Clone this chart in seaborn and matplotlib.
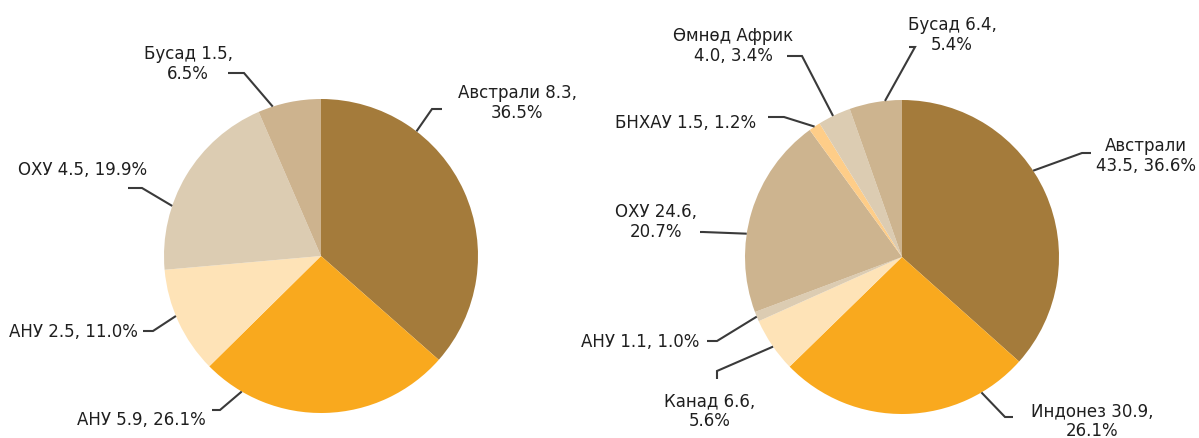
import numpy as np
import matplotlib
matplotlib.use("Agg")
import matplotlib.pyplot as plt
import seaborn as sns

# ---------------- data ----------------
left_names = ["Австрали", "АНУ", "АНУ", "ОХУ", "Бусад"]
left_values = ["8.3", "5.9", "2.5", "4.5", "1.5"]
left_pcts = [36.5, 26.1, 11.0, 19.9, 6.5]

right_names = ["Австрали", "Индонез", "Канад", "АНУ", "ОХУ", "БНХАУ", "Өмнөд Африк", "Бусад"]
right_values = ["43.5", "30.9", "6.6", "1.1", "24.6", "1.5", "4.0", "6.4"]
right_pcts = [36.6, 26.1, 5.6, 1.0, 20.7, 1.2, 3.4, 5.4]

# ---------------- styles ----------------
left_colors = ["#A47B3B", "#F9A91E", "#FEE3B7", "#DCCCB2", "#CDB38E"]
right_colors = ["#A47B3B", "#F9A91E", "#FEE3B7", "#DCCCB2", "#CDB48F", "#FECD88", "#DCCCB2", "#CDB48F"]

W, H = 1199, 439
sns.set_theme(style="white")
plt.rcParams["font.family"] = ["DejaVu Sans"]

TEXT_COLOR = "#1f1f1f"
LINE_COLOR = "#3a3a3a"
FS = 12.0

# label layout: (text, frac along wedge for anchor, elbow px, end px, text pos px, ha)
left_layout = [
    ("{n} {v},\n{p:.1f}%", 0.715, (432, 110), (442, 110), (517, 103), "center"),
    ("{n} {v}, {p:.1f}%", 0.16, (220, 411), (212, 411), (206, 420), "right"),
    ("{n} {v}, {p:.1f}%", 0.44, (153, 332), (143, 332), (138, 332), "right"),
    ("{n} {v}, {p:.1f}%", 0.67, (142, 189), (128, 189), (83, 170), "center"),
    ("{n} {v},\n{p:.1f}%", 0.765, (244, 74), (228, 74), (188, 64), "center"),
]
right_layout = [
    ("{n}\n{v}, {p:.1f}%", 0.57, (1082, 154), (1091, 154), (1146, 156), "center"),
    ("{n} {v},\n{p:.1f}%", 0.81, (1005, 418), (1013, 418), (1092, 421), "center"),
    ("{n} {v},\n{p:.1f}%", 0.53, (717, 372), (717, 380), (710, 411), "center"),
    ("{n} {v}, {p:.1f}%", 0.5, (717, 342), (707, 342), (699, 342), "right"),
    ("{n} {v},\n{p:.1f}%", 0.61, (703, 233), (700, 233), (656, 222), "center"),
    ("{n} {v}, {p:.1f}%", 0.5, (784, 118), (768, 118), (756, 123), "right"),
    ("{n}\n{v}, {p:.1f}%", 0.54, (802, 57), (787, 57), (733, 46), "center"),
    ("{n} {v},\n{p:.1f}%", 0.32, (915, 48), (909, 48), (952, 35), "center"),
]

fig = plt.figure(figsize=(W / 100, H / 100), dpi=100)
ax = fig.add_axes([0, 0, 1, 1])


def P(x, y):
    return (x, H - y)


def draw_pie(pcts, names, values, colors, center_px, radius, layout):
    c = P(*center_px)
    wedges, _ = ax.pie(pcts, colors=colors, startangle=90, counterclock=False,
                       radius=radius, center=c,
                       wedgeprops=dict(linewidth=0, antialiased=True))
    for w, n, v, p, lay in zip(wedges, names, values, pcts, layout):
        fmt, frac, elbow, end, tpos, ha = lay
        t1, t2 = w.theta1, w.theta2
        ang = np.deg2rad(t1 + frac * (t2 - t1))
        ax_, ay_ = c[0] + w.r * np.cos(ang), c[1] + w.r * np.sin(ang)
        ex, ey = P(*elbow)
        nx, ny = P(*end)
        ax.plot([ax_, ex, nx], [ay_, ey, ny], color=LINE_COLOR, lw=1.5,
                solid_capstyle="butt", solid_joinstyle="miter")
        tx, ty = P(*tpos)
        ax.text(tx, ty, fmt.format(n=n, v=v, p=p), ha=ha, va="center",
                multialignment="center", fontsize=FS, color=TEXT_COLOR,
                linespacing=1.15)


draw_pie(left_pcts, left_names, left_values, left_colors, (321, 257), 157, left_layout)
draw_pie(right_pcts, right_names, right_values, right_colors, (902, 258), 157, right_layout)

ax.set_xlim(0, W)
ax.set_ylim(0, H)
ax.set_aspect("auto")
ax.axis("off")

fig.savefig("out.png", dpi=100, facecolor="white")
